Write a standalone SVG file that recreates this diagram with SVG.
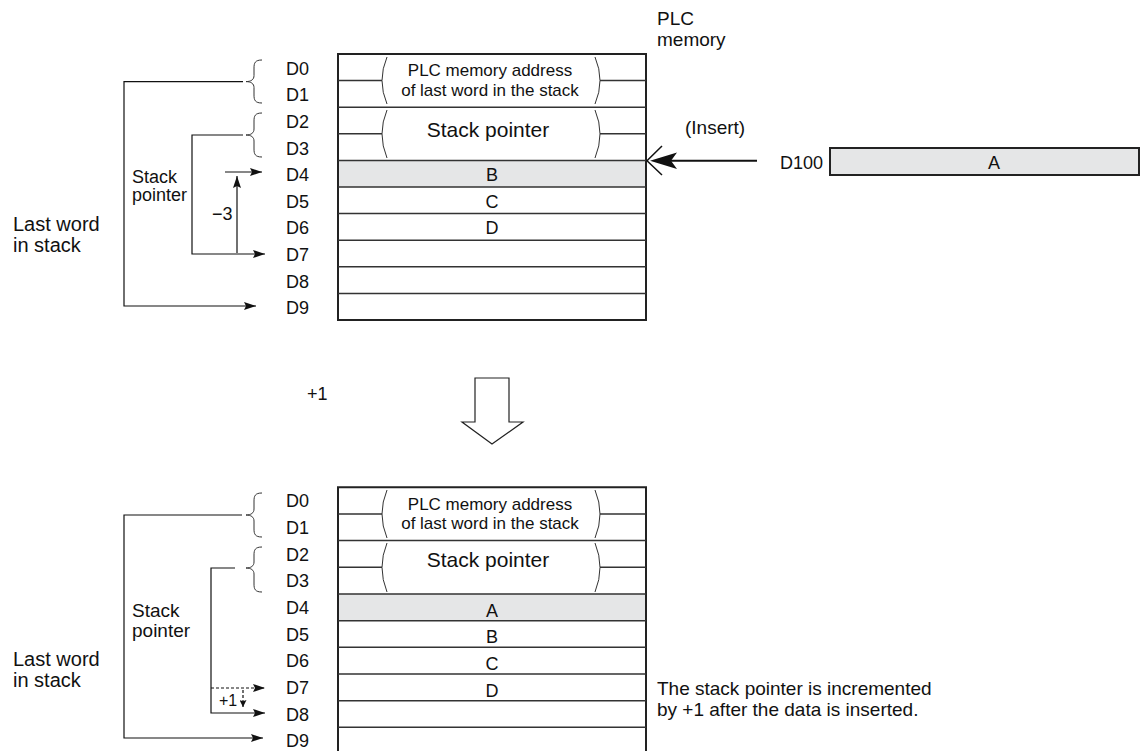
<svg xmlns="http://www.w3.org/2000/svg" width="1140" height="751" viewBox="0 0 1140 751">
<defs>
<style>
text{font-family:"Liberation Sans",Arial,Helvetica,sans-serif;fill:#111}
.lbl{font-size:18px}
.cell{font-size:18px;text-anchor:middle}
.addr{font-size:17px;text-anchor:middle}
.big{font-size:21px;text-anchor:middle}
.note{font-size:19px}
.frame{fill:none;stroke:#222;stroke-width:2}
.row{stroke:#333;stroke-width:1.5;fill:none}
.gray{fill:#e5e6e7}
.par{fill:none;stroke:#333;stroke-width:1}
.con{fill:none;stroke:#111;stroke-width:1.2}
.dash{fill:none;stroke:#111;stroke-width:1.2;stroke-dasharray:3 2}
</style>
<marker id="ah" viewBox="0 0 12 8" refX="12" refY="4" markerWidth="12" markerHeight="8" orient="auto" markerUnits="userSpaceOnUse">
<path d="M0,0 L12,4 L0,8 L2,4 z" fill="#111"/>
</marker>
<marker id="ahs" viewBox="0 0 8 8" refX="8" refY="4" markerWidth="7" markerHeight="7" orient="auto" markerUnits="userSpaceOnUse">
<path d="M0,0 L8,4 L0,8 L1.5,4 z" fill="#111"/>
</marker>
</defs>
<rect width="1140" height="751" fill="#fff"/>

<g id="plc-title">
<text class="note" x="657" y="25">PLC</text>
<text class="note" x="657" y="46">memory</text>
</g>

<g id="top-memory">
<rect class="gray" x="338" y="160.4" width="308" height="26.6"/>
<rect class="frame" x="338" y="54" width="308" height="266"/>
<path class="row" d="M338,80.6H382M600,80.6H646M338,107.2H646M338,133.8H382M600,133.8H646M338,160.4H646M338,187H646M338,213.6H646M338,240.2H646M338,266.8H646M338,293.4H646"/>
<path class="par" d="M387,57 Q377,80.6 387,104 M595,57 Q605,80.6 595,104 M387,110 Q377,133.8 387,158 M595,110 Q605,133.8 595,158"/>
<text class="addr" x="490" y="76">PLC memory address</text>
<text class="addr" x="490" y="95.5">of last word in the stack</text>
<text class="big" x="488" y="137">Stack pointer</text>
<text class="cell" x="492" y="181">B</text>
<text class="cell" x="492" y="207.5">C</text>
<text class="cell" x="492" y="234">D</text>
</g>

<g id="top-addresses">
<text class="lbl" x="286" y="74.7">D0</text>
<text class="lbl" x="286" y="101.3">D1</text>
<text class="lbl" x="286" y="127.9">D2</text>
<text class="lbl" x="286" y="154.5">D3</text>
<text class="lbl" x="286" y="181.1">D4</text>
<text class="lbl" x="286" y="207.7">D5</text>
<text class="lbl" x="286" y="234.3">D6</text>
<text class="lbl" x="286" y="260.9">D7</text>
<text class="lbl" x="286" y="287.5">D8</text>
<text class="lbl" x="286" y="314.1">D9</text>
</g>

<g id="top-side-labels">
<text class="lbl" x="132" y="183">Stack</text>
<text class="lbl" x="132" y="201">pointer</text>
<text class="lbl" x="212" y="220">−3</text>
<text class="note" x="13" y="231" style="font-size:20px">Last word</text>
<text class="note" x="13" y="252" style="font-size:20px">in stack</text>
</g>

<g id="d100-source">
<text class="lbl" x="780" y="168.5">D100</text>
<rect x="830" y="148" width="309" height="27" fill="#e5e6e7" stroke="#222" stroke-width="2"/>
<text class="cell" x="994" y="168.5">A</text>
<text class="note" x="685" y="134">(Insert)</text>
</g>

<g id="transition">
<polygon points="475,378 509,378 509,422 523,422 492,444 462,422 475,422" fill="#fff" stroke="#222" stroke-width="1.2"/>
<text class="lbl" x="307" y="400">+1</text>
</g>

<g id="bottom-memory">
<rect class="gray" x="338" y="594" width="308" height="26.7"/>
<path class="frame" d="M338,760V487.3H646V760"/>
<path class="row" d="M338,514H382M600,514H646M338,540.6H646M338,567.3H382M600,567.3H646M338,594H646M338,620.7H646M338,647.3H646M338,674H646M338,700.7H646M338,727.3H646"/>
<path class="par" d="M387,490 Q377,514 387,538 M595,490 Q605,514 595,538 M387,543 Q377,567.3 387,592 M595,543 Q605,567.3 595,592"/>
<text class="addr" x="490" y="509.5">PLC memory address</text>
<text class="addr" x="490" y="529">of last word in the stack</text>
<text class="big" x="488" y="567">Stack pointer</text>
<text class="cell" x="492" y="616.5">A</text>
<text class="cell" x="492" y="643">B</text>
<text class="cell" x="492" y="669.5">C</text>
<text class="cell" x="492" y="696.5">D</text>
</g>

<g id="bottom-addresses">
<text class="lbl" x="286" y="507.3">D0</text>
<text class="lbl" x="286" y="534">D1</text>
<text class="lbl" x="286" y="560.6">D2</text>
<text class="lbl" x="286" y="587.3">D3</text>
<text class="lbl" x="286" y="614">D4</text>
<text class="lbl" x="286" y="640.7">D5</text>
<text class="lbl" x="286" y="667.3">D6</text>
<text class="lbl" x="286" y="694">D7</text>
<text class="lbl" x="286" y="720.7">D8</text>
<text class="lbl" x="286" y="747.3">D9</text>
</g>

<g id="bottom-side-labels">
<text class="note" x="132" y="617">Stack</text>
<text class="note" x="132" y="637">pointer</text>
<text x="219" y="706" style="font-size:16px">+1</text>
<text class="note" x="13" y="666" style="font-size:20px">Last word</text>
<text class="note" x="13" y="687" style="font-size:20px">in stack</text>
<text class="note" x="657" y="695">The stack pointer is incremented</text>
<text class="note" x="657" y="716">by +1 after the data is inserted.</text>
</g>

<g id="connectors">
<path class="par" d="M262,60 C255,60 254,63 254,68 L254,75.6 C254,79.6 251,81.6 246,81.6 C251,81.6 254,83.6 254,87.6 L254,95 C254,100 255,103 262,103"/>
<path class="par" d="M262,113 C255,113 254,116 254,121 L254,129 C254,133 251,135 246,135 C251,135 254,137 254,141 L254,149 C254,154 255,157 262,157"/>
<path class="par" d="M262,493 C255,493 254,496 254,501 L254,509 C254,513 251,515 246,515 C251,515 254,517 254,521 L254,529 C254,534 255,537 262,537"/>
<path class="par" d="M262,547 C255,547 254,550 254,555 L254,562 C254,566 251,568 246,568 C251,568 254,570 254,574 L254,584 C254,589 255,592 262,592"/>
<polyline class="con" points="243,81.6 124,81.6 124,306 256,306" marker-end="url(#ah)"/>
<polyline class="con" points="243,135 192,135 192,254 265,254" marker-end="url(#ah)"/>
<line class="con" x1="237" y1="253" x2="237" y2="176" marker-end="url(#ah)"/>
<line class="con" x1="225" y1="172" x2="262" y2="172" marker-end="url(#ah)"/>
<polyline class="con" points="242,515 124,515 124,738 263,738" marker-end="url(#ah)"/>
<polyline class="con" points="235,568 211,568 211,713 265,713" marker-end="url(#ah)"/>
<line class="dash" x1="211" y1="688" x2="265" y2="688" marker-end="url(#ah)"/>
<line class="dash" x1="243" y1="690" x2="243" y2="707" marker-end="url(#ahs)"/>
<line x1="757" y1="160.7" x2="668" y2="160.7" stroke="#111" stroke-width="2"/>
<path d="M650,160.7 L677,152.5 L671,160.7 L677,169 z" fill="#111"/>
<polyline points="662,146 647,160.7 662,175" fill="none" stroke="#111" stroke-width="1.5"/>
</g>
</svg>
